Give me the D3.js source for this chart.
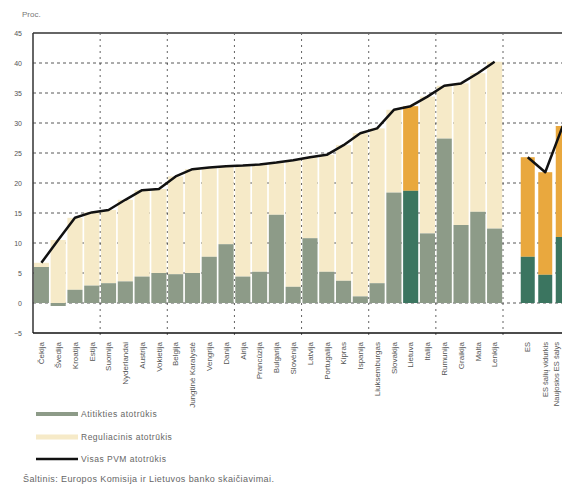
<!DOCTYPE html>
<html><head><meta charset="utf-8">
<script src="https://cdn.jsdelivr.net/npm/d3@7"></script>
<style>body{margin:0;background:#fff}svg{display:block}text{font-family:"Liberation Sans",Arial,sans-serif}</style>
</head><body>
<svg id="c" width="562" height="486"></svg>
<script>
const countries = ["Čekija","Švedija","Kroatija","Estija","Suomija","Nyderlandai","Austrija","Vokietija","Belgija","Jungtinė Karalystė","Vengrija","Danija","Airija","Prancūzija","Bulgarija","Slovėnija","Latvija","Portugalija","Kipras","Ispanija","Liuksemburgas","Slovakija","Lietuva","Italija","Rumunija","Graikija","Malta","Lenkija"];
const activeGap = [6.0,-0.5,2.2,2.9,3.3,3.6,4.4,5.0,4.8,5.0,7.7,9.8,4.4,5.2,14.7,2.7,10.8,5.2,3.7,1.1,3.3,18.4,18.7,11.6,27.4,13.0,15.2,12.4];
const totalGap = [6.7,10.5,14.2,15.1,15.5,17.2,18.8,19.0,21.1,22.3,22.6,22.8,22.9,23.1,23.4,23.8,24.3,24.7,26.3,28.3,29.1,32.2,32.8,34.4,36.2,36.6,38.3,40.2];
const euGroups = ["ES","ES šalių vidurkis","Naujosios ES šalys"];
const euActive = [7.7,4.7,11.0];
const euTotal = [24.3,21.8,29.5];
const highlight = ["Lietuva"];
const yTicks = [-5,0,5,10,15,20,25,30,35,40,45];
const legendLabels = ["Atitikties atotrūkis","Reguliacinis atotrūkis","Visas PVM atotrūkis"];
const yTitle = "Proc.";
const sourceText = "Šaltinis: Europos Komisija ir Lietuvos banko skaičiavimai.";

const cGray="#8d9b88", cBeige="#f6eac8", cGreen="#3b7560", cOrange="#e9a83e";
const svg = d3.select("#c");
const y = d3.scaleLinear().domain([-5,45]).range([333,33]);
const x = d3.scaleBand().domain(countries).range([33,503]).paddingInner(0.1).paddingOuter(0.05);
const xe = d3.scaleBand().domain(euGroups).range([519,571.5]).paddingInner(0.2).paddingOuter(0.1);

// gridlines
const g = svg.append("g");
yTicks.filter(v=>v>-5 && v<45).forEach(v=>{
  g.append("line").attr("x1",33).attr("x2",562).attr("y1",y(v)).attr("y2",y(v))
   .attr("stroke","#222").attr("stroke-width",1).attr("stroke-dasharray","3,3").attr("opacity",0.75);
});
const vIdx = [4,8,12,16,20,24,28];
vIdx.forEach(i=>{
  const xv = 33 + i*(470/28);
  g.append("line").attr("x1",xv).attr("x2",xv).attr("y1",y(45)).attr("y2",y(-5)+3)
   .attr("stroke","#222").attr("stroke-width",1).attr("stroke-dasharray","2,4").attr("opacity",0.7);
});

// bars left
const bars = svg.append("g");
countries.forEach((c,i)=>{
  const a = activeGap[i], t = totalGap[i];
  const hl = highlight.includes(c);
  const base = Math.max(a,0);
  bars.append("rect").attr("x",x(c)).attr("width",x.bandwidth())
    .attr("y",y(t)).attr("height",y(base)-y(t)).attr("fill",hl?cOrange:cBeige);
  bars.append("rect").attr("x",x(c)).attr("width",x.bandwidth())
    .attr("y",y(Math.max(a,0))).attr("height",Math.abs(y(a)-y(0))).attr("fill",hl?cGreen:cGray);
});
euGroups.forEach((c,i)=>{
  bars.append("rect").attr("x",xe(c)).attr("width",xe.bandwidth())
    .attr("y",y(euTotal[i])).attr("height",y(euActive[i])-y(euTotal[i])).attr("fill",cOrange);
  bars.append("rect").attr("x",xe(c)).attr("width",xe.bandwidth())
    .attr("y",y(euActive[i])).attr("height",y(0)-y(euActive[i])).attr("fill",cGreen);
});

// lines
const line = d3.line().x(d=>d[0]).y(d=>y(d[1]));
svg.append("path").datum(countries.map((c,i)=>[x(c)+x.bandwidth()/2,totalGap[i]]))
  .attr("d",line).attr("fill","none").attr("stroke","#111").attr("stroke-width",2.5).attr("stroke-linejoin","round");
svg.append("path").datum(euGroups.map((c,i)=>[xe(c)+xe.bandwidth()/2,euTotal[i]]))
  .attr("d",line).attr("fill","none").attr("stroke","#111").attr("stroke-width",2.5).attr("stroke-linejoin","round");

// axes frame
svg.append("line").attr("x1",33).attr("x2",562).attr("y1",y(45)).attr("y2",y(45)).attr("stroke","#666").attr("stroke-width",2);
svg.append("line").attr("x1",33).attr("x2",33).attr("y1",y(45)).attr("y2",y(-5)).attr("stroke","#333").attr("stroke-width",1.5);
svg.append("line").attr("x1",33).attr("x2",562).attr("y1",y(-5)).attr("y2",y(-5)).attr("stroke","#111").attr("stroke-width",1.5);

// y axis labels
const ya = d3.axisLeft(y).tickValues(yTicks).tickSize(0).tickPadding(11).tickFormat(d3.format("d"));
const yg = svg.append("g").attr("transform","translate(33,0)").call(ya);
yg.select(".domain").remove();
yg.selectAll("text").attr("font-size",7).attr("fill","#555");

// x labels
const xa = d3.axisBottom(x).tickSize(0).tickPadding(0);
const xg = svg.append("g").attr("transform",`translate(0,${y(-5)})`).call(xa);
xg.select(".domain").remove();
xg.selectAll("text").attr("transform","rotate(-90)").attr("text-anchor","end").attr("dy","0.35em")
  .attr("x",-9).attr("y",0).attr("font-size",8).attr("fill","#555");
const xea = d3.axisBottom(xe).tickSize(0).tickPadding(0);
const xeg = svg.append("g").attr("transform",`translate(0,${y(-5)})`).call(xea);
xeg.select(".domain").remove();
xeg.selectAll("text").attr("transform","rotate(-90)").attr("text-anchor","end").attr("dy","0.35em")
  .attr("x",-9).attr("y",(d,i)=>i===2?-6:0).attr("font-size",7.5).attr("fill","#555");

// title
svg.append("text").attr("x",22).attr("y",17).attr("font-size",8).attr("fill","#777").text(yTitle);

// legend
const lg = svg.append("g");
const ly = [414,437,459];
const lc = [cGray,cBeige,"#111"];
const lw = [4,5,2.5];
legendLabels.forEach((t,i)=>{
  lg.append("line").attr("x1",36).attr("x2",78).attr("y1",ly[i]).attr("y2",ly[i]).attr("stroke",lc[i]).attr("stroke-width",lw[i]);
  lg.append("text").attr("x",81).attr("y",ly[i]+3).attr("font-size",8.5).attr("letter-spacing",0.5).attr("fill","#666").text(t);
});
svg.append("text").attr("x",23).attr("y",482).attr("font-size",9).attr("letter-spacing",0.4).attr("fill","#666").text(sourceText);
</script>
</body></html>
